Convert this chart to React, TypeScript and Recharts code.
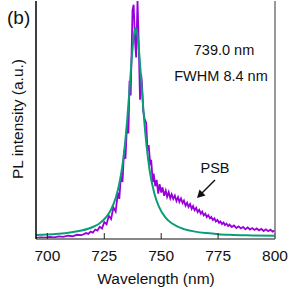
import React from 'react';
import { LineChart, Line, XAxis, YAxis } from 'recharts';

// x ticks (nm)
const xTicks = [700, 725, 750, 775, 800];

// PL spectrum, measured (wavelength nm / normalized intensity)
const plWavelength = [
  695, 697, 699, 701, 703, 705, 707, 709, 711, 713, 715, 717, 718, 719, 720, 721, 722, 723, 724,
  725, 726, 727, 728, 729, 730, 731, 731.6, 732.3, 733, 733.7, 734.3, 735, 735.6, 736.1, 736.6,
  737.4, 737.9, 738.5, 739, 739.6, 740.1, 740.7, 741.2, 741.6, 742.1, 742.7, 743.4, 744, 744.5,
  745.2, 745.6, 746.3, 746.7, 747.4, 748, 748.7, 749.3, 750, 750.6, 751.3, 752, 752.6, 753.3,
  754, 754.6, 755.3, 756, 756.7, 757.4, 758, 758.7, 759.4, 760, 760.7, 761.4, 762, 762.7, 763.4,
  764, 764.7, 765.4, 766, 766.7, 767.4, 768, 768.7, 769.4, 770, 770.7, 771.4, 772, 772.7, 773.4,
  774, 774.7, 775.4, 776, 776.7, 777.4, 778, 778.7, 779.4, 780, 781, 782, 783, 784, 785, 786,
  787, 788, 789, 790, 791, 792, 793, 794, 795, 796, 797, 798, 799, 800,
];
const plIntensity = [
  0.005, 0.008, 0.006, 0.01, 0.008, 0.012, 0.01, 0.016, 0.013, 0.02, 0.018, 0.028, 0.024, 0.035, 0.03, 0.045, 0.04, 0.058, 0.05,
  0.08, 0.07, 0.11, 0.095, 0.15, 0.13, 0.22, 0.19, 0.3, 0.27, 0.42, 0.38, 0.55, 0.5, 0.75, 0.68,
  1.085, 1.11, 0.94, 0.86, 1.13, 0.94, 0.66, 0.78, 0.73, 0.61, 0.57, 0.55, 0.42, 0.445,
  0.35, 0.375, 0.27, 0.31, 0.25, 0.28, 0.215, 0.26, 0.22, 0.245, 0.205, 0.23, 0.2, 0.222,
  0.193, 0.212, 0.19, 0.206, 0.18, 0.198, 0.176, 0.192, 0.17, 0.182, 0.158, 0.172, 0.152, 0.166, 0.143,
  0.156, 0.136, 0.148, 0.128, 0.138, 0.12, 0.13, 0.112, 0.12, 0.104, 0.113, 0.098, 0.104, 0.09, 0.098,
  0.083, 0.09, 0.077, 0.083, 0.071, 0.078, 0.066, 0.073, 0.061, 0.068, 0.057, 0.064, 0.052, 0.06, 0.05, 0.057,
  0.046, 0.055, 0.045, 0.052, 0.043, 0.05, 0.041, 0.048, 0.038, 0.046, 0.037, 0.044, 0.035, 0.041,
];

// Lorentzian fit
const fitWavelength = [
  695, 700, 705, 710, 715, 720, 723, 726, 728, 730, 732, 733, 734, 735, 736, 737, 738, 738.8,
  739.5, 740.5, 741.5, 742.5, 743.5, 745, 747, 749, 752, 755, 760, 765, 770, 775, 780, 790, 800,
];
const fitIntensity = [
  0.019, 0.021, 0.025, 0.031, 0.04, 0.057, 0.075, 0.106, 0.14, 0.194, 0.284, 0.35, 0.44, 0.555, 0.695, 0.847, 0.965, 1.0,
  0.973, 0.86, 0.71, 0.567, 0.45, 0.32, 0.216, 0.153, 0.1, 0.072, 0.047, 0.035, 0.028, 0.023, 0.02, 0.017, 0.015,
];

const plData = plWavelength.map((x, i) => ({ x, y: plIntensity[i] }));
const fitData = fitWavelength.map((x, i) => ({ x, y: fitIntensity[i] }));

const FONT = '"Liberation Sans", Arial, Helvetica, sans-serif';

export default function App() {
  return (
    <div style={{ position: 'absolute', left: 0, top: 0, width: 299, height: 299, background: '#fff' }}>
      <LineChart width={299} height={299} margin={{ top: 1, right: 0, bottom: 0, left: 0 }}>
        <XAxis
          xAxisId="b"
          dataKey="x"
          type="number"
          domain={[695, 800]}
          ticks={xTicks}
          allowDataOverflow
          height={60}
          axisLine={{ stroke: '#888', strokeWidth: 2 }}
          tickLine={{ stroke: '#222' }}
          tickSize={-6}
          tickMargin={17}
          tick={{ fill: '#111', fontSize: 15.5, fontFamily: FONT }}
        />
        <XAxis
          xAxisId="t"
          orientation="top"
          dataKey="x"
          type="number"
          domain={[695, 800]}
          height={0}
          tick={false}
          tickLine={false}
          axisLine={{ stroke: '#999', strokeWidth: 2 }}
        />
        <YAxis
          yAxisId="l"
          type="number"
          domain={[0, 1.128]}
          allowDataOverflow
          width={36}
          tick={false}
          tickLine={false}
          axisLine={{ stroke: '#000', strokeWidth: 1.5 }}
        />
        <YAxis
          yAxisId="r"
          orientation="right"
          type="number"
          domain={[0, 1.128]}
          width={24}
          tick={false}
          tickLine={false}
          axisLine={{ stroke: '#777', strokeWidth: 1.5 }}
        />
        <Line
          xAxisId="b"
          yAxisId="l"
          data={plData}
          dataKey="y"
          type="linear"
          stroke="#9a00dc"
          strokeWidth={1.8}
          dot={false}
          isAnimationActive={false}
        />
        <Line
          xAxisId="b"
          yAxisId="l"
          data={fitData}
          dataKey="y"
          type="monotone"
          stroke="#0a9e78"
          strokeWidth={2}
          dot={false}
          isAnimationActive={false}
        />
        <text x={156} y={284} textAnchor="middle" fontSize={15.5} fontFamily={FONT} fill="#111">Wavelength (nm)</text>
        <text x={23} y={119} transform="rotate(-90 23 119)" textAnchor="middle" fontSize={15.5} fontFamily={FONT} fill="#111">PL intensity (a.u.)</text>
        <text x={7} y={24} fontSize={19} fontFamily={FONT} fill="#111">(b)</text>
        <text x={224} y={55} textAnchor="middle" fontSize={14.5} fontFamily={FONT} fill="#111">739.0 nm</text>
        <text x={221} y={81} textAnchor="middle" fontSize={14.5} fontFamily={FONT} fill="#111">FWHM 8.4 nm</text>
        <text x={215} y={173} textAnchor="middle" fontSize={14.5} fontFamily={FONT} fill="#111">PSB</text>
        <line x1={215} y1={180} x2={201} y2={194} stroke="#111" strokeWidth={1.5} />
        <path d="M197,198 L199.5,189.5 L205.5,195.5 Z" fill="#111" />
      </LineChart>
    </div>
  );
}
